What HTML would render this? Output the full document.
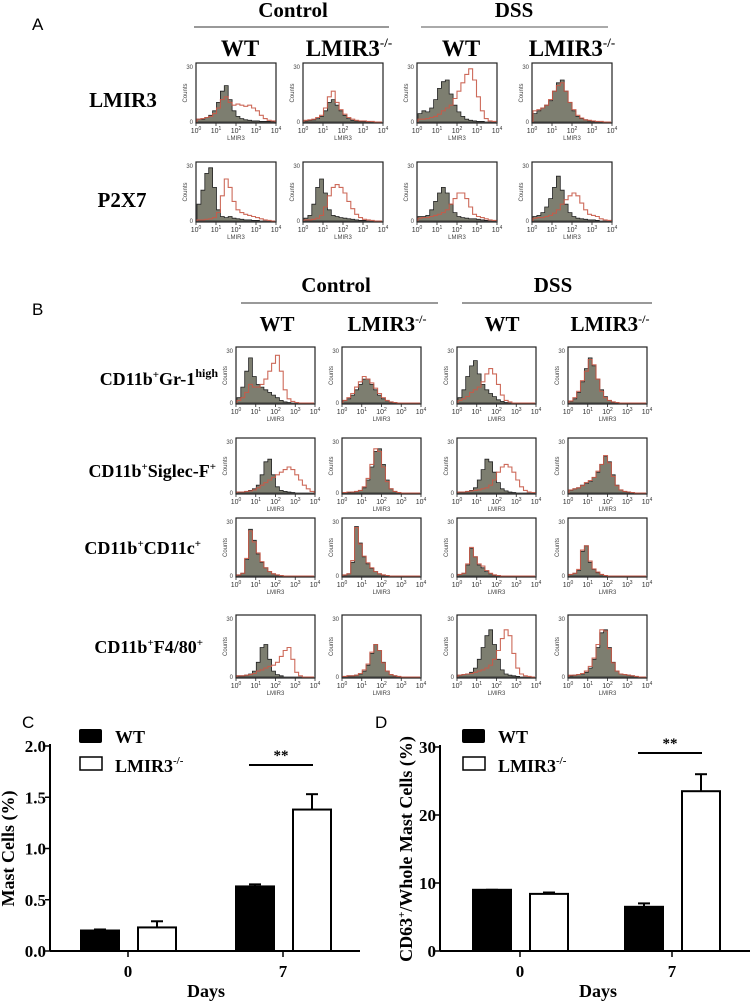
<!DOCTYPE html>
<html><head><meta charset="utf-8">
<style>
html,body{margin:0;padding:0;background:#fff;}
svg{display:block;}
text{font-family:"Liberation Serif",serif;}
.s{font-family:"Liberation Sans",sans-serif;}
</style></head>
<body>
<svg id="fig" width="750" height="1003" viewBox="0 0 750 1003" xmlns="http://www.w3.org/2000/svg">
<g id="static">
<text class="s" x="32" y="30" font-size="17">A</text>
<text x="293" y="17" font-size="21" font-weight="bold" text-anchor="middle">Control</text>
<line x1="194" y1="27" x2="389" y2="27" stroke="#333"/>
<text x="514" y="17" font-size="21" font-weight="bold" text-anchor="middle">DSS</text>
<line x1="421" y1="27" x2="608" y2="27" stroke="#555"/>
<text x="240" y="56" font-size="23" font-weight="bold" text-anchor="middle">WT</text>
<text x="349" y="56" font-size="23" font-weight="bold" text-anchor="middle">LMIR3<tspan font-size="13" dy="-9">-/-</tspan></text>
<text x="461" y="56" font-size="23" font-weight="bold" text-anchor="middle">WT</text>
<text x="572" y="56" font-size="23" font-weight="bold" text-anchor="middle">LMIR3<tspan font-size="13" dy="-9">-/-</tspan></text>
<text x="123" y="107" font-size="21" font-weight="bold" text-anchor="middle">LMIR3</text>
<text x="122" y="207" font-size="21" font-weight="bold" text-anchor="middle">P2X7</text>

<text class="s" x="32" y="315" font-size="17">B</text>
<text x="336" y="292" font-size="21" font-weight="bold" text-anchor="middle">Control</text>
<line x1="241" y1="303" x2="438" y2="303" stroke="#333"/>
<text x="553" y="292" font-size="21" font-weight="bold" text-anchor="middle">DSS</text>
<line x1="462" y1="303" x2="652" y2="303" stroke="#333"/>
<text x="277" y="331" font-size="21" font-weight="bold" text-anchor="middle">WT</text>
<text x="387" y="331" font-size="21" font-weight="bold" text-anchor="middle">LMIR3<tspan font-size="12" dy="-8">-/-</tspan></text>
<text x="502" y="331" font-size="21" font-weight="bold" text-anchor="middle">WT</text>
<text x="610" y="331" font-size="21" font-weight="bold" text-anchor="middle">LMIR3<tspan font-size="12" dy="-8">-/-</tspan></text>
<text x="218" y="385" font-size="18" font-weight="bold" text-anchor="end">CD11b<tspan font-size="11" dy="-7">+</tspan><tspan dy="7">Gr-1</tspan><tspan font-size="12" dy="-8">high</tspan></text>
<text x="216" y="477" font-size="18" font-weight="bold" text-anchor="end">CD11b<tspan font-size="11" dy="-7">+</tspan><tspan dy="7">Siglec-F</tspan><tspan font-size="11" dy="-7">+</tspan></text>
<text x="201" y="554" font-size="18" font-weight="bold" text-anchor="end">CD11b<tspan font-size="11" dy="-7">+</tspan><tspan dy="7">CD11c</tspan><tspan font-size="11" dy="-7">+</tspan></text>
<text x="203" y="653" font-size="18" font-weight="bold" text-anchor="end">CD11b<tspan font-size="11" dy="-7">+</tspan><tspan dy="7">F4/80</tspan><tspan font-size="11" dy="-7">+</tspan></text>

<text class="s" x="22" y="728" font-size="17">C</text>
<text class="s" x="375" y="728" font-size="17">D</text>
</g>
<g id="hists"></g>
<g id="chartC"></g>
<g id="chartD"></g>
</svg>
<script>
// ---------- histogram data (fraction of box height, 20 log bins 10^0..10^4) ----------
const a11g=[.05,.05,.08,.12,.2,.35,.55,.65,.4,.2,.1,.06,.04,.03,.02,.02,.01,.01,.01,.01];
const a11r=[.05,.06,.08,.1,.15,.25,.4,.45,.35,.3,.32,.3,.28,.3,.25,.2,.12,.06,.03,.02];
const a12g=[.02,.03,.04,.06,.1,.2,.35,.4,.3,.2,.12,.06,.03,.02,.01,.01,.01,0,0,0];
const a12r=[.03,.04,.05,.08,.12,.25,.45,.55,.35,.22,.14,.08,.05,.03,.02,.02,.01,.01,0,0];
const a13g=[.15,.2,.18,.25,.4,.6,.72,.75,.5,.3,.18,.1,.05,.03,.02,.01,.01,0,0,0];
const a13r=[.05,.05,.06,.08,.1,.14,.2,.25,.3,.42,.55,.7,.85,.95,.75,.45,.2,.06,.02,.01];
const a14g=[.15,.2,.25,.3,.38,.55,.7,.75,.55,.35,.2,.1,.06,.04,.02,.01,.01,0,0,0];
const a14r=[.2,.22,.25,.3,.4,.55,.65,.7,.55,.35,.22,.12,.07,.04,.03,.02,.01,.01,0,0];
const a21g=[.3,.55,.85,.95,.6,.2,.08,.06,.08,.05,.04,.03,.02,.02,.01,.01,0,0,0,0];
const a21r=[.02,.02,.03,.04,.06,.15,.45,.75,.6,.35,.2,.15,.12,.1,.08,.06,.04,.02,.01,0];
const a22g=[.05,.1,.3,.6,.75,.5,.2,.1,.08,.06,.05,.04,.03,.02,.01,.01,0,0,0,0];
const a22r=[.02,.02,.03,.05,.1,.25,.45,.6,.65,.6,.5,.35,.22,.12,.06,.03,.02,.01,0,0];
const a23g=[.08,.08,.1,.2,.35,.5,.6,.5,.3,.15,.08,.06,.05,.04,.04,.03,.02,.01,0,0];
const a23r=[.05,.06,.06,.08,.1,.12,.15,.2,.3,.4,.5,.5,.4,.25,.12,.08,.06,.04,.02,.01];
const a24g=[.08,.1,.15,.25,.4,.6,.8,.55,.3,.15,.08,.05,.04,.03,.02,.02,.01,0,0,0];
const a24r=[.05,.06,.06,.08,.1,.14,.2,.3,.38,.45,.5,.45,.32,.2,.12,.1,.08,.04,.02,.01];
const b11g=[.1,.3,.6,.85,.5,.35,.3,.25,.2,.15,.1,.05,.02,.01,0,0,0,0,0,0];
const b11r=[.05,.1,.2,.35,.3,.3,.35,.45,.6,.75,.9,.6,.25,.08,.03,.01,0,0,0,0];
const b12g=[.05,.08,.15,.25,.35,.45,.45,.35,.25,.15,.08,.04,.02,.01,0,0,0,0,0,0];
const b12r=[.05,.1,.18,.3,.4,.5,.45,.38,.28,.18,.1,.05,.02,.01,0,0,0,0,0,0];
const b13g=[.1,.25,.5,.7,.8,.55,.35,.25,.18,.12,.06,.03,.01,0,0,0,0,0,0,0];
const b13r=[.05,.08,.12,.2,.25,.3,.4,.55,.65,.55,.35,.15,.05,.02,0,0,0,0,0,0];
const b14g=[.03,.08,.2,.4,.65,.85,.7,.45,.25,.12,.05,.02,.01,0,0,0,0,0,0,0];
const b14r=[.04,.1,.22,.42,.6,.82,.72,.45,.22,.1,.05,.02,.01,0,0,0,0,0,0,0];
const b21g=[.02,.02,.03,.05,.08,.15,.35,.6,.65,.35,.12,.05,.03,.02,.01,0,0,0,0,0];
const b21r=[.02,.02,.03,.04,.06,.1,.15,.2,.25,.3,.35,.4,.45,.5,.45,.35,.25,.15,.08,.03];
const b22g=[.01,.01,.02,.03,.05,.1,.25,.5,.8,.85,.55,.25,.08,.03,.01,0,0,0,0,0];
const b22r=[.01,.02,.02,.03,.05,.12,.28,.55,.85,.8,.5,.22,.08,.03,.01,0,0,0,0,0];
const b23g=[.02,.02,.03,.05,.1,.25,.45,.65,.6,.4,.2,.08,.04,.02,.01,0,0,0,0,0];
const b23r=[.02,.02,.03,.04,.05,.06,.08,.1,.15,.25,.4,.5,.55,.5,.4,.25,.12,.05,.02,.01];
const b24g=[.05,.08,.1,.15,.18,.22,.3,.4,.55,.7,.6,.35,.15,.06,.03,.02,.01,0,0,0];
const b24r=[.06,.08,.1,.14,.2,.24,.3,.42,.55,.72,.58,.32,.14,.06,.03,.02,.01,0,0,0];
const b31g=[.02,.05,.3,.85,.65,.4,.25,.15,.08,.04,.02,.01,0,0,0,0,0,0,0,0];
const b31r=[.02,.05,.32,.82,.62,.42,.26,.15,.08,.04,.02,.01,0,0,0,0,0,0,0,0];
const b32g=[.02,.04,.25,.9,.6,.35,.22,.14,.08,.04,.02,.01,0,0,0,0,0,0,0,0];
const b32r=[.02,.04,.28,.88,.58,.36,.24,.15,.08,.04,.02,.01,0,0,0,0,0,0,0,0];
const b33g=[.03,.05,.2,.5,.35,.2,.15,.08,.04,.02,.01,0,0,0,0,0,0,0,0,0];
const b33r=[.03,.05,.22,.52,.35,.22,.18,.1,.05,.02,.01,0,0,0,0,0,0,0,0,0];
const b34g=[.03,.05,.1,.45,.55,.25,.12,.06,.03,.01,0,0,0,0,0,0,0,0,0,0];
const b34r=[.03,.05,.12,.47,.55,.27,.13,.07,.03,.01,0,0,0,0,0,0,0,0,0,0];
const b41g=[.02,.02,.03,.05,.1,.25,.5,.55,.3,.1,.04,.02,0,0,0,0,0,0,0,0];
const b41r=[.02,.02,.03,.04,.06,.1,.12,.15,.18,.2,.25,.35,.45,.5,.3,.08,.02,0,0,0];
const b42g=[.01,.02,.02,.03,.05,.1,.2,.4,.55,.45,.25,.1,.04,.02,.01,0,0,0,0,0];
const b42r=[.01,.02,.02,.03,.06,.12,.22,.42,.55,.45,.24,.1,.04,.02,.01,0,0,0,0,0];
const b43g=[.03,.04,.05,.08,.15,.3,.5,.7,.8,.55,.3,.12,.05,.03,.02,.01,0,0,0,0];
const b43r=[.03,.04,.05,.06,.08,.1,.12,.15,.2,.3,.45,.65,.8,.7,.4,.15,.05,.02,.01,0];
const b44g=[.02,.03,.04,.05,.08,.15,.3,.5,.75,.8,.5,.25,.1,.05,.04,.03,.02,.01,0,0];
const b44r=[.03,.03,.04,.06,.1,.18,.32,.55,.8,.78,.48,.24,.1,.05,.04,.03,.02,.01,0,0];
const histGray=[[a11g,a12g,a13g,a14g],[a21g,a22g,a23g,a24g],[b11g,b12g,b13g,b14g],[b21g,b22g,b23g,b24g],[b31g,b32g,b33g,b34g],[b41g,b42g,b43g,b44g]];
const histRed=[[a11r,a12r,a13r,a14r],[a21r,a22r,a23r,a24r],[b11r,b12r,b13r,b14r],[b21r,b22r,b23r,b24r],[b31r,b32r,b33r,b34r],[b41r,b42r,b43r,b44r]];
const xTickLabels=["0","1","2","3","4"];

// ---------- bar chart data ----------
const dayCats=["0","7"];
const cWT=[0.20,0.63];
const cKO=[0.23,1.38];
const cWTerr=[0.21,0.65];
const cKOerr=[0.29,1.53];
const cTicks=[0,0.5,1.0,1.5,2.0];
const cTickLabels=["0.0","0.5","1.0","1.5","2.0"];
const dWT=[9.0,6.5];
const dKO=[8.4,23.5];
const dWTerr=[9.0,7.0];
const dKOerr=[8.6,26.0];
const dTicks=[0,10,20,30];
const dTickLabels=["0","10","20","30"];

const NS="http://www.w3.org/2000/svg";
function mk(tag,attrs,parent,txt){const e=document.createElementNS(NS,tag);for(const k in attrs)e.setAttribute(k,attrs[k]);if(txt!==undefined)e.textContent=txt;parent.appendChild(e);return e;}

const colXA=[196,303,417,532], colXB=[236,342,457,568];
const rowDefs=[{y:63,h:60,cols:colXA,w:80},{y:162,h:60,cols:colXA,w:80},{y:347,h:57,cols:colXB,w:79},{y:438,h:56,cols:colXB,w:79},{y:518,h:59,cols:colXB,w:79},{y:615,h:63,cols:colXB,w:79}];
const H=document.getElementById('hists');
function stepPath(vals,x0,y0,w,h,close){
  const n=vals.length,bw=w/n;let d="M"+x0+","+y0;
  for(let i=0;i<n;i++){const yy=y0-vals[i]*h;d+=" L"+(x0+i*bw).toFixed(1)+","+yy.toFixed(1)+" L"+(x0+(i+1)*bw).toFixed(1)+","+yy.toFixed(1);}
  d+=" L"+(x0+w)+","+y0;if(close)d+=" Z";return d;
}
rowDefs.forEach((r,ri)=>{
  r.cols.forEach((cx,ci)=>{
    const g=mk('g',{},H);
    
    
    const x0=cx,y0=r.y+r.h,w=r.w,h=r.h;
    mk('rect',{x:x0,y:r.y,width:w,height:h,fill:'#fff',stroke:'#222','stroke-width':1.2},g);
    const gp=mk('path',{d:stepPath(histGray[ri][ci],x0+1,y0-1,w-2,h-4,true),fill:'#7d7e70',stroke:'#222','stroke-width':0.8},g);
    
    
    const rp=mk('path',{d:stepPath(histRed[ri][ci],x0+1,y0-1,w-2,h-4,false),fill:'none',stroke:'#c85a48','stroke-width':1.1,opacity:0.9},g);
    
    
    xTickLabels.forEach((t,k)=>{
      const tx=x0+k*w/4;
      mk('line',{x1:tx,y1:y0,x2:tx,y2:y0+3,stroke:'#222','stroke-width':0.8},g);
      const tt=mk('text',{x:tx,y:y0+10,'font-size':7,'text-anchor':'middle',class:'s',fill:'#333'},g);
      tt.textContent='10';mk('tspan',{'font-size':5,dy:-3},tt,t);
    });
    mk('text',{x:x0+w/2,y:y0+17,'font-size':6,'text-anchor':'middle',class:'s',fill:'#444'},g,'LMIR3');
    mk('text',{x:x0-3,y:y0+1,'font-size':6,'text-anchor':'end',class:'s',fill:'#444'},g,'0');
    mk('text',{x:x0-3,y:r.y+6,'font-size':6,'text-anchor':'end',class:'s',fill:'#444'},g,'30');
    mk('text',{x:0,y:0,'font-size':6,'text-anchor':'middle',class:'s',fill:'#444',transform:'translate('+(x0-9)+','+(r.y+h/2)+') rotate(-90)'},g,'Counts');
  });
});

function barChart(gid,o){
  const G=document.getElementById(gid);
  const ys=v=>o.y0-v/o.max*(o.y0-o.yTop);
  const xs=i=>o.c0+i*o.step;
  mk('line',{x1:o.ax,y1:o.yTop-2,x2:o.ax,y2:o.y0,stroke:'#000','stroke-width':2},G);
  mk('line',{x1:o.ax,y1:o.y0,x2:o.axEnd,y2:o.y0,stroke:'#000','stroke-width':2},G);
  o.ticks.forEach((t,i)=>{
    const y=ys(t);
    mk('line',{x1:o.ax-5,y1:y,x2:o.ax,y2:y,stroke:'#000','stroke-width':1.5},G);
    const tl=mk('text',{x:o.ax-4,y:y+6,'font-size':17,'font-weight':'bold','text-anchor':'end'},G,o.tickLabels[i]);
    
    
  });
  dayCats.forEach((c,i)=>{
    const cx=xs(i);
    mk('line',{x1:cx,y1:o.y0,x2:cx,y2:o.y0+6,stroke:'#000','stroke-width':1.5},G);
    const xl=mk('text',{x:cx,y:o.y0+26,'font-size':17,'font-weight':'bold','text-anchor':'middle'},G,c);
    
    
    [[o.wt,o.wtErr,-28,'#000'],[o.ko,o.koErr,29,'#fff']].forEach((s,k)=>{
      const bx=cx+s[2]-19,by=ys(s[0][i]);
      const eTop=ys(s[1][i]);
      const el=mk('line',{x1:cx+s[2],y1:eTop,x2:cx+s[2],y2:by,stroke:'#000','stroke-width':2},G);
      
      
      mk('line',{x1:cx+s[2]-6,y1:eTop,x2:cx+s[2]+6,y2:eTop,stroke:'#000','stroke-width':2},G);
      const b=mk('rect',{x:bx,y:by,width:38,height:o.y0-by,fill:s[3],stroke:'#000','stroke-width':2},G);
      
      
    });
  });
  const yl=mk('text',{x:0,y:0,'font-size':18,'font-weight':'bold','text-anchor':'middle',transform:'translate('+o.ylx+','+((o.y0+o.yTop)/2)+') rotate(-90)'},G);
  
  
  o.ylab(yl);
  const xt=mk('text',{x:o.daysX,y:997,'font-size':18,'font-weight':'bold','text-anchor':'middle'},G,'Days');
  
  
  const l1=mk('rect',{x:o.legX,y:729,width:23,height:14,fill:'#000',rx:2},G);
  
  
  const lt1=mk('text',{x:o.legX+36,y:743,'font-size':18,'font-weight':'bold'},G,'WT');
  
  
  const l2=mk('rect',{x:o.legX+1,y:757,width:22,height:13,fill:'#fff',stroke:'#000','stroke-width':1.5},G);
  
  
  const lt2=mk('text',{x:o.legX+36,y:772,'font-size':18,'font-weight':'bold'},G,'LMIR3');
  
  
  mk('tspan',{'font-size':11,dy:-8},lt2,'-/-');
  const sx=xs(1);
  mk('line',{x1:sx-34,y1:o.sigY,x2:sx+30,y2:o.sigY,stroke:'#000','stroke-width':2},G);
  const st=mk('text',{x:sx-2,y:o.sigY-5,'font-size':15,'font-weight':'bold','text-anchor':'middle'},G,'**');
  
  
}
barChart('chartC',{ax:50,axEnd:360,y0:951,yTop:746,max:2.0,c0:128,step:155,ticks:cTicks,tickLabels:cTickLabels,wt:cWT,ko:cKO,wtErr:cWTerr,koErr:cKOerr,ylx:14,daysX:206,legX:79,sigY:765,
  ylab:t=>{t.textContent='Mast Cells (%)';}});
barChart('chartD',{ax:440,axEnd:750,y0:951,yTop:747,max:30,c0:520,step:152,ticks:dTicks,tickLabels:dTickLabels,wt:dWT,ko:dKO,wtErr:dWTerr,koErr:dKOerr,ylx:412,daysX:598,legX:462,sigY:753,
  ylab:t=>{t.textContent='CD63';mk('tspan',{'font-size':11,dy:-7},t,'+');mk('tspan',{dy:7},t,'/Whole Mast Cells (%)');}});
</script>
</body></html>
